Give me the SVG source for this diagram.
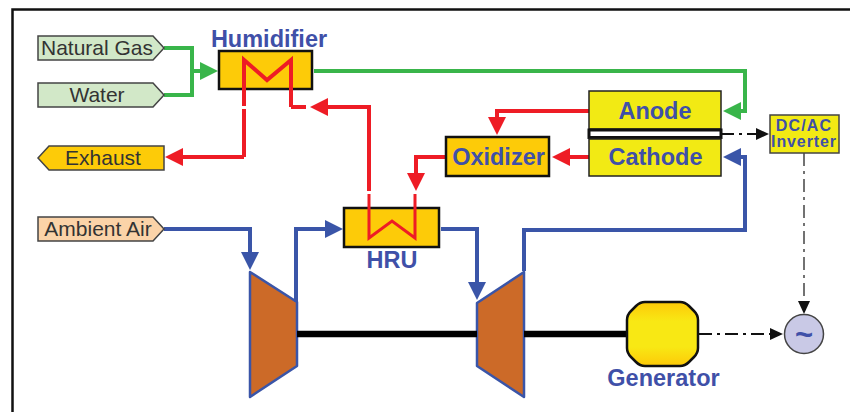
<svg xmlns="http://www.w3.org/2000/svg" width="850" height="412" viewBox="0 0 850 412">
<style>
text{font-family:"Liberation Sans",Arial,sans-serif;text-anchor:middle}
.in{font-size:21px;fill:#333}
.t{font-size:23.500px;font-weight:bold;fill:#3f50a8}
.inv{font-size:16px;font-weight:bold;fill:#3f50a8}
.box{stroke:#111;stroke-width:2.500;fill:#fdcb08}
.pem{stroke:#222;stroke-width:1.500;fill:#f2ea14}
.tag{stroke:#444;stroke-width:1.500}
.w{fill:none;stroke-width:4;stroke-linejoin:miter}
.g{stroke:#39b54a}.r{stroke:#ee1c25}.b{stroke:#3a55a8}
.d{fill:none;stroke:#111;stroke-width:2;stroke-dasharray:13 5 3 5}
.tb{fill:#cc6a28;stroke:#3a55a8;stroke-width:2.500;stroke-linejoin:round}
</style>
<defs>
<marker id="ag" markerUnits="userSpaceOnUse" markerWidth="18" markerHeight="18" refX="14" refY="9" orient="auto"><path d="M0 0L18 9L0 18Z" fill="#39b54a"/></marker>
<marker id="ar" markerUnits="userSpaceOnUse" markerWidth="18" markerHeight="18" refX="14" refY="9" orient="auto"><path d="M0 0L18 9L0 18Z" fill="#ee1c25"/></marker>
<marker id="ab" markerUnits="userSpaceOnUse" markerWidth="18" markerHeight="18" refX="14" refY="9" orient="auto"><path d="M0 0L18 9L0 18Z" fill="#3a55a8"/></marker>
<marker id="ak" markerUnits="userSpaceOnUse" markerWidth="13" markerHeight="12" refX="11" refY="6" orient="auto"><path d="M0 0L13 6L0 12Z" fill="#111"/></marker>
<linearGradient id="gen" x1="0" y1="0" x2="0" y2="1"><stop offset="0" stop-color="#fdc908"/><stop offset=".3" stop-color="#f8e814"/><stop offset=".7" stop-color="#f8e814"/><stop offset="1" stop-color="#fdc908"/></linearGradient>
</defs>
<path id="frame" d="M12.500 412V9.500H850" fill="none" stroke="#111" stroke-width="2.500"/>
<g id="turbomachines">
<polygon id="compressor" class="tb" points="250,272 297,302 297,366 250,397"/>
<polygon id="turbine" class="tb" points="477,303 524,272 524,397 477,366"/>
</g>
<g id="connectors">
<path d="M297 334H477M524 334H627" fill="none" stroke="#000" stroke-width="6.500"/>
<path class="w g" d="M164 48H192V95H164M192 71H214" marker-end="url(#ag)"/>
<path class="w g" d="M314 71H745V111H727" marker-end="url(#ag)"/>
<path class="w b" d="M164 229H250V266" marker-end="url(#ab)"/>
<path class="w b" d="M296 302V229H339" marker-end="url(#ab)"/>
<path class="w b" d="M441 229H477V296" marker-end="url(#ab)"/>
<path class="w b" d="M524 271V230H745V157H727" marker-end="url(#ab)"/>
<path class="w r" d="M589 111H497V131" marker-end="url(#ar)"/>
<path class="w r" d="M589 157H556" marker-end="url(#ar)"/>
<path class="w r" d="M447 157H416V187" marker-end="url(#ar)"/>
<path class="w r" d="M369 191V107H314" marker-end="url(#ar)"/>
<path class="w r" d="M244 157H169" marker-end="url(#ar)"/>
<path class="w r" d="M244 157V109"/>
<path class="w r" d="M291 107H306"/>
<path class="d" d="M721 134H767" marker-end="url(#ak)"/>
<path class="d" style="stroke:#444;stroke-width:1.500" d="M804 153V312" marker-end="url(#ak)"/>
<path class="d" d="M699 334H781" marker-end="url(#ak)"/>
</g>
<g id="natural-gas"><polygon class="tag" fill="#d2e8c8" points="38,36 153,36 164,48 153,60 38,60"/><text class="in" x="97" y="55">Natural Gas</text></g>
<g id="water"><polygon class="tag" fill="#d2e8c8" points="38,83 153,83 164,95 153,107 38,107"/><text class="in" x="97" y="102">Water</text></g>
<g id="exhaust"><polygon class="tag" fill="#fdcb08" points="38,158 49,146 164,146 164,170 49,170"/><text class="in" x="103" y="165">Exhaust</text></g>
<g id="ambient-air"><polygon class="tag" fill="#fbd3a8" points="38,217 153,217 164,229 153,241 38,241"/><text class="in" x="98" y="236">Ambient Air</text></g>
<g id="humidifier"><rect class="box" x="219" y="51" width="93" height="38"/><path class="w r" d="M244 106V60L267 80L291 60V107"/><text class="t" x="269" y="47">Humidifier</text></g>
<g id="hru"><rect class="box" x="344" y="208" width="95" height="39"/><path class="w r" style="stroke-width:3" d="M369 194V238L392 221L415 238V194"/><text class="t" x="392" y="268">HRU</text></g>
<g id="oxidizer"><rect class="box" x="446" y="137" width="103" height="39"/><text class="t" x="498.500" y="165">Oxidizer</text></g>
<g id="anode"><rect class="pem" x="589" y="91" width="132" height="38"/><text class="t" x="655" y="119">Anode</text></g>
<g id="membrane"><rect x="589" y="130" width="132" height="7.500" fill="#fff" stroke="#111" stroke-width="3"/></g>
<g id="cathode"><rect class="pem" x="589" y="139" width="132" height="37"/><text class="t" x="655.500" y="165">Cathode</text></g>
<g id="inverter"><rect x="770" y="115" width="69" height="38" fill="#f2ea14" stroke="#444" stroke-width="1.500"/><text class="inv" x="804" y="131" letter-spacing="1.200">DC/AC</text><text class="inv" x="804" y="147" letter-spacing=".9">Inverter</text></g>
<g id="generator"><path d="M645 302H680Q685 302 689 306L694 311Q698 315 698 320V348Q698 353 694 357L689 362Q685 366 680 366H645Q640 366 636 362L631 357Q627 353 627 348V320Q627 315 631 311L636 306Q640 302 645 302Z" fill="url(#gen)" stroke="#111" stroke-width="2.500"/><text class="t" x="663.500" y="386">Generator</text></g>
<g id="grid"><circle cx="804" cy="334" r="19.500" fill="#c9c9e6" stroke="#444" stroke-width="1.500"/><text x="804" y="345" font-size="31" font-weight="bold" fill="#3f50a8">~</text></g>
</svg>
